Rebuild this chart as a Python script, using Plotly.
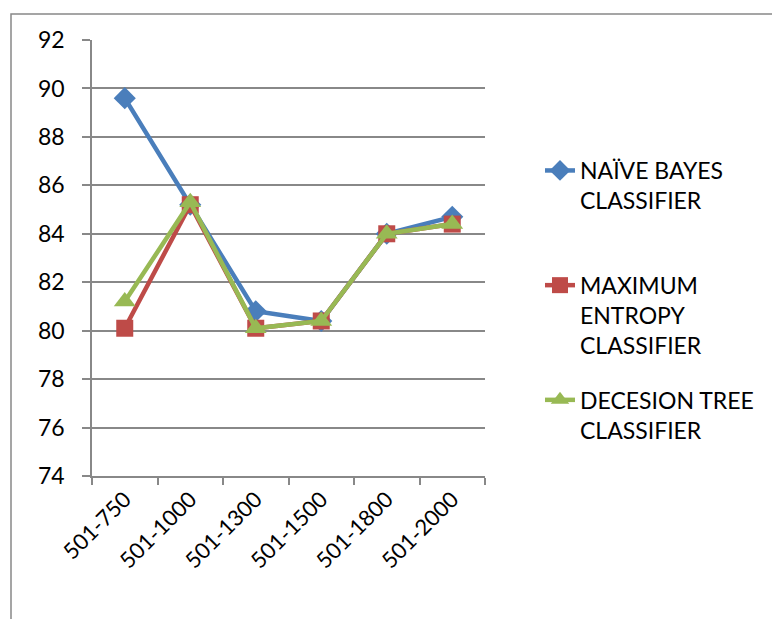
import plotly.graph_objects as go

# Training-set ranges on the x axis
ranges = ["501-750", "501-1000", "501-1300", "501-1500", "501-1800", "501-2000"]

# Accuracy (%) of each classifier per range
naive_bayes = [89.6, 85.2, 80.8, 80.4, 84.0, 84.7]
max_entropy = [80.1, 85.2, 80.1, 80.4, 84.0, 84.4]
decision_tree = [81.2, 85.3, 80.1, 80.4, 84.0, 84.4]

y_ticks = [74, 76, 78, 80, 82, 84, 86, 88, 90, 92]

FONT = "Lato, sans-serif"
GRID = "#888888"

series = [
    ("NAÏVE BAYES<br>CLASSIFIER<br>&nbsp;", naive_bayes, "#4A7EBB", "diamond", 17),
    ("MAXIMUM<br>ENTROPY<br>CLASSIFIER", max_entropy, "#BE4B48", "square", 17),
    ("DECESION TREE<br>CLASSIFIER", decision_tree, "#98B954", "triangle-up", 19),
]

fig = go.Figure()
for i, (name, vals, color, symbol, size) in enumerate(series):
    fig.add_trace(go.Scatter(
        x=ranges, y=vals, name=name, mode="lines+markers",
        legendgroup=f"g{i}",
        line=dict(color=color, width=4.5),
        marker=dict(symbol=symbol, size=size, color=color),
    ))

W, H = 772, 619
L, R, T, B = 92, 287, 40, 143
pw, ph = W - L - R, H - T - B

def px_x(p):
    return (p - L) / pw

def px_y(p):
    return (H - B - p) / ph

fig.update_layout(
    width=W, height=H,
    margin=dict(l=L, r=R, t=T, b=B),
    paper_bgcolor="white", plot_bgcolor="white",
    font=dict(family=FONT, size=20, color="#000000"),
    showlegend=True,
    legend=dict(
        x=px_x(540), y=px_y(149), xanchor="left", yanchor="top",
        valign="top", tracegroupgap=22,
        font=dict(family=FONT, size=23, color="#000000"),
        bgcolor="rgba(0,0,0,0)",
    ),
    xaxis=dict(
        type="category", showgrid=False,
        showline=True, linecolor=GRID, linewidth=1.5,
        ticks="outside", ticklen=7, tickcolor=GRID, tickwidth=1.5,
        tickson="boundaries", tickangle=-45,
        tickfont=dict(family=FONT, size=22),
        range=[-0.5, 5.5],
    ),
    yaxis=dict(
        range=[74, 92], tickvals=y_ticks,
        showgrid=True, gridcolor=GRID, gridwidth=1.5,
        showline=True, linecolor=GRID, linewidth=1.5,
        ticks="outside", ticklen=8, tickcolor=GRID, tickwidth=1.5,
        ticklabelstandoff=13,
        tickfont=dict(family=FONT, size=23),
        zeroline=False,
    ),
    shapes=[
        dict(type="rect", xref="paper", yref="paper",
             x0=px_x(11), x1=px_x(800), y0=px_y(640), y1=px_y(14),
             line=dict(color="#888888", width=1.5), fillcolor="rgba(0,0,0,0)",
             layer="below"),
    ],
)

fig.write_html("out.html")
